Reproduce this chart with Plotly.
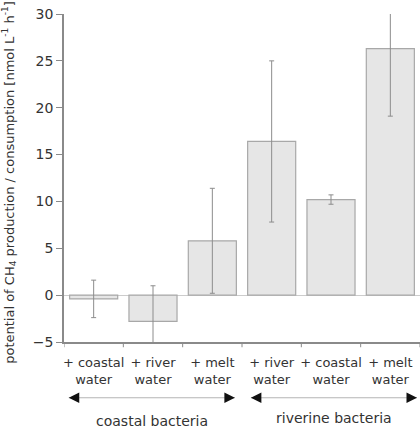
import plotly.graph_objects as go

categories = ["+ coastal<br>water", "+ river<br>water", "+ melt<br>water",
              "+ river<br>water", "+ coastal<br>water", "+ melt<br>water"]
values = [-0.4, -2.8, 5.8, 16.4, 10.2, 26.3]
errors = [2.0, 3.8, 5.6, 8.6, 0.5, 7.2]
groups = ["coastal bacteria", "riverine bacteria"]
y_ticks = [-5, 0, 5, 10, 15, 20, 25, 30]

FONT = "DejaVu Sans"
TXT = "#333333"
AX = "#8a8a8a"

x = list(range(len(categories)))

fig = go.Figure()
fig.add_trace(go.Bar(
    x=x, y=values, width=0.81,
    marker=dict(color="#e6e6e6", line=dict(color="#a8a8a8", width=1.2)),
    error_y=dict(type="data", array=errors, visible=True, color="#8c8c8c",
                 thickness=1, width=2.5),
    showlegend=False,
))

fig.update_layout(
    width=420, height=429,
    margin=dict(l=64, r=0, t=14, b=87),
    paper_bgcolor="white", plot_bgcolor="white",
    font=dict(family=FONT, size=13, color=TXT),
    xaxis=dict(range=[-0.5, 5.5], tickmode="array", tickvals=x, ticktext=categories,
               showline=True, linecolor=AX, linewidth=1.5, ticks="",
               ticklabelstandoff=8, showgrid=False, zeroline=False,
               tickfont=dict(size=13, color=TXT)),
    yaxis=dict(range=[-5, 30], tickmode="array", tickvals=y_ticks,
               showline=True, linecolor=AX, linewidth=1.5, ticks="outside",
               ticklen=6, tickcolor=AX, showgrid=False,
               zeroline=True, zerolinecolor="#cccccc", zerolinewidth=1,
               tickfont=dict(size=14, color=TXT)),
)

# x-axis ticks at category boundaries
bounds = [i - 0.5 for i in range(len(categories) + 1)]
for b in bounds:
    fig.add_shape(type="line", xref="x", yref="paper", x0=b, x1=b, y0=0, y1=-0.016,
                  line=dict(color=AX, width=1))

fig.add_annotation(
    text="potential of CH<sub>4</sub> production / consumption [nmol L<sup>-1</sup> h<sup>-1</sup>]",
    xref="paper", yref="paper", x=-0.153, y=0.487, textangle=-90, showarrow=False,
    font=dict(size=13, color=TXT), xanchor="center", yanchor="middle")

# group arrows
arrow_y = -0.170
spans = [(-0.42, 2.38), (2.65, 5.45)]
label_y = [-0.241, -0.232]
for g, (a, b), ly in zip(groups, spans, label_y):
    fig.add_shape(type="line", xref="x", yref="paper", x0=a, x1=b, y0=arrow_y, y1=arrow_y,
                  line=dict(color="#b5b5b5", width=1))
    fig.add_annotation(x=a, y=arrow_y, xref="x", yref="paper", ax=10, ay=0, text="",
                       showarrow=True, arrowhead=2, arrowsize=1.4, arrowwidth=1.5,
                       arrowcolor="#111111")
    fig.add_annotation(x=b, y=arrow_y, xref="x", yref="paper", ax=-10, ay=0, text="",
                       showarrow=True, arrowhead=2, arrowsize=1.4, arrowwidth=1.5,
                       arrowcolor="#111111")
    fig.add_annotation(x=(a + b) / 2, y=ly, xref="x", yref="paper", text=g,
                       showarrow=False, font=dict(size=14, color=TXT),
                       xanchor="center", yanchor="middle")

fig.write_html("out.html")
